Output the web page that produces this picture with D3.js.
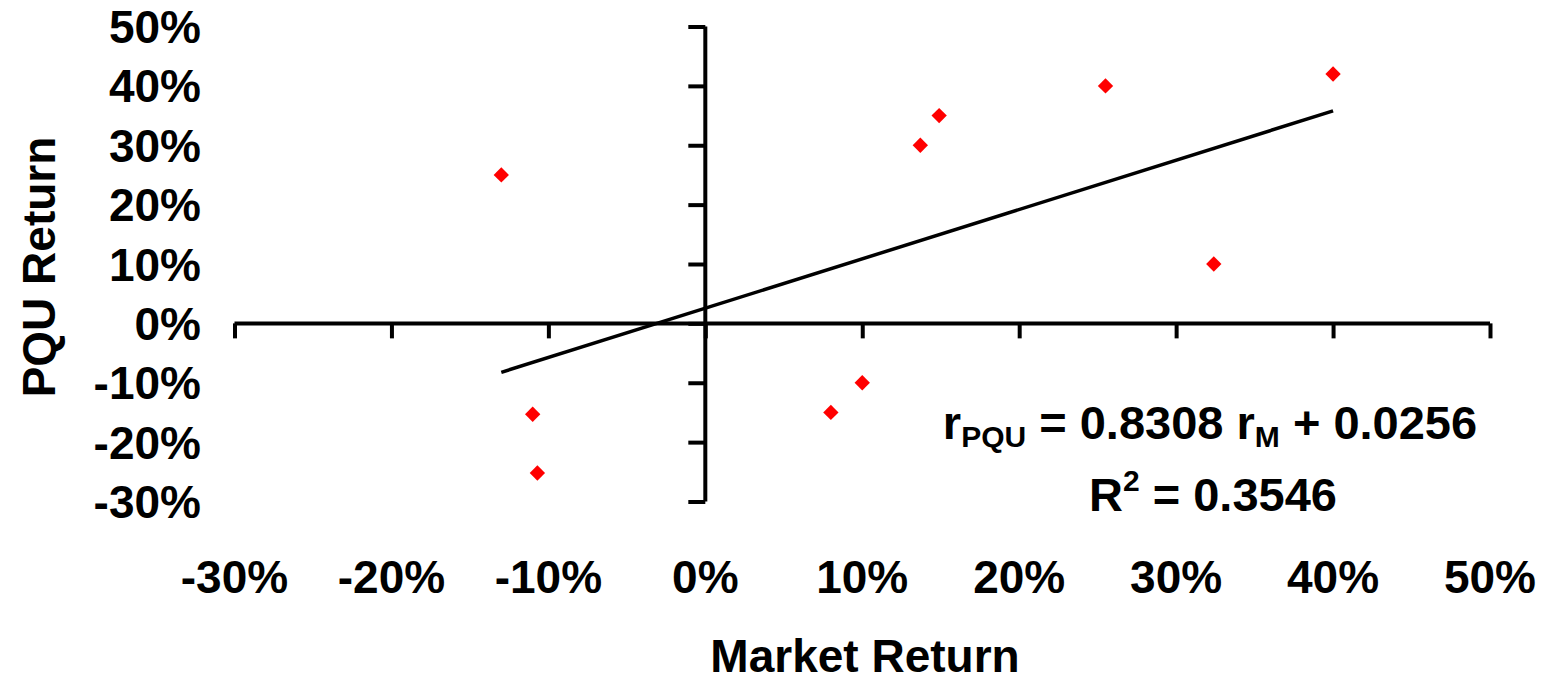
<!DOCTYPE html>
<html><head><meta charset="utf-8">
<script src="https://cdn.jsdelivr.net/npm/d3@7"></script>
<style>
html,body{margin:0;padding:0;background:#fff;}
svg{display:block;}
text{font-family:"Liberation Sans",Arial,sans-serif;font-weight:bold;fill:#000;}
</style></head><body>
<svg id="chart" width="1547" height="683"></svg>
<script>
const marketReturn = [-0.13, -0.11, -0.107, 0.08, 0.10, 0.137, 0.149, 0.255, 0.324, 0.40];
const pquReturn    = [0.25, -0.153, -0.252, -0.15, -0.10, 0.30, 0.35, 0.40, 0.10, 0.42];
const xTicks = [-0.3, -0.2, -0.1, 0, 0.1, 0.2, 0.3, 0.4, 0.5];
const yTicks = [-0.3, -0.2, -0.1, 0, 0.1, 0.2, 0.3, 0.4, 0.5];
const slope = 0.8308, intercept = 0.0256, rSquared = 0.3546;
const xTitle = "Market Return", yTitle = "PQU Return";

const svg = d3.select("#chart");
const x = d3.scaleLinear().domain([-0.3, 0.5]).range([234.5, 1490]);
const y = d3.scaleLinear().domain([-0.3, 0.5]).range([501.5, 26.5]);
const fmt = d => Math.round(d * 100) + "%";

// X axis at y=0
const xAxis = svg.append("g").attr("transform", `translate(0,${y(0)})`)
  .call(d3.axisBottom(x).tickValues(xTicks).tickSize(15).tickFormat(""));
xAxis.select(".domain").attr("stroke", "#000").attr("stroke-width", 4).attr("d", `M${x(-0.3)},0H${x(0.5)}`);
xAxis.selectAll(".tick line").attr("stroke", "#000").attr("stroke-width", 4);

// Y axis at x=0
const yAxis = svg.append("g").attr("transform", `translate(${x(0)},0)`)
  .call(d3.axisLeft(y).tickValues(yTicks).tickSize(17).tickFormat(""));
yAxis.select(".domain").attr("stroke", "#000").attr("stroke-width", 4).attr("d", `M0,${y(0.5)}V${y(-0.3)}`);
yAxis.selectAll(".tick line").attr("stroke", "#000").attr("stroke-width", 4);

// tick labels (low position)
svg.append("g").selectAll("text").data(xTicks).join("text")
  .attr("x", d => x(d)).attr("y", 593).attr("text-anchor", "middle")
  .attr("font-size", 46).text(fmt);
svg.append("g").selectAll("text").data(yTicks).join("text")
  .attr("x", 201).attr("y", d => y(d)).attr("dy", "0.36em").attr("text-anchor", "end")
  .attr("font-size", 46).text(fmt);

// axis titles
svg.append("text").attr("x", 865).attr("y", 672).attr("text-anchor", "middle")
  .attr("font-size", 46).text(xTitle);
svg.append("text").attr("transform", "translate(55,267) rotate(-90)").attr("text-anchor", "middle")
  .attr("font-size", 46).text(yTitle);

// trend line
const xMin = d3.min(marketReturn), xMax = d3.max(marketReturn);
svg.append("line")
  .attr("x1", x(xMin)).attr("y1", y(slope * xMin + intercept))
  .attr("x2", x(xMax)).attr("y2", y(slope * xMax + intercept))
  .attr("stroke", "#000").attr("stroke-width", 3.5);

// points
const pts = marketReturn.map((m, i) => [m, pquReturn[i]]);
svg.append("g").selectAll("path").data(pts).join("path")
  .attr("transform", d => `translate(${x(d[0])},${y(d[1])})`)
  .attr("d", d3.symbol(d3.symbolDiamond2, 150)())
  .attr("fill", "#ff0000");

// equation
const eq = svg.append("text").attr("x", 1210).attr("y", 439).attr("text-anchor", "middle").attr("font-size", 47);
eq.append("tspan").text("r");
eq.append("tspan").attr("font-size", 30).attr("dy", 8).text("PQU");
eq.append("tspan").attr("dy", -8).text(" = " + slope.toFixed(4) + " r");
eq.append("tspan").attr("font-size", 30).attr("dy", 8).text("M");
eq.append("tspan").attr("dy", -8).text(" + " + intercept.toFixed(4));

const r2 = svg.append("text").attr("x", 1213).attr("y", 511).attr("text-anchor", "middle").attr("font-size", 47);
r2.append("tspan").text("R");
r2.append("tspan").attr("font-size", 30).attr("dy", -20).text("2");
r2.append("tspan").attr("dy", 20).text(" = " + rSquared.toFixed(4));
</script>
</body></html>
